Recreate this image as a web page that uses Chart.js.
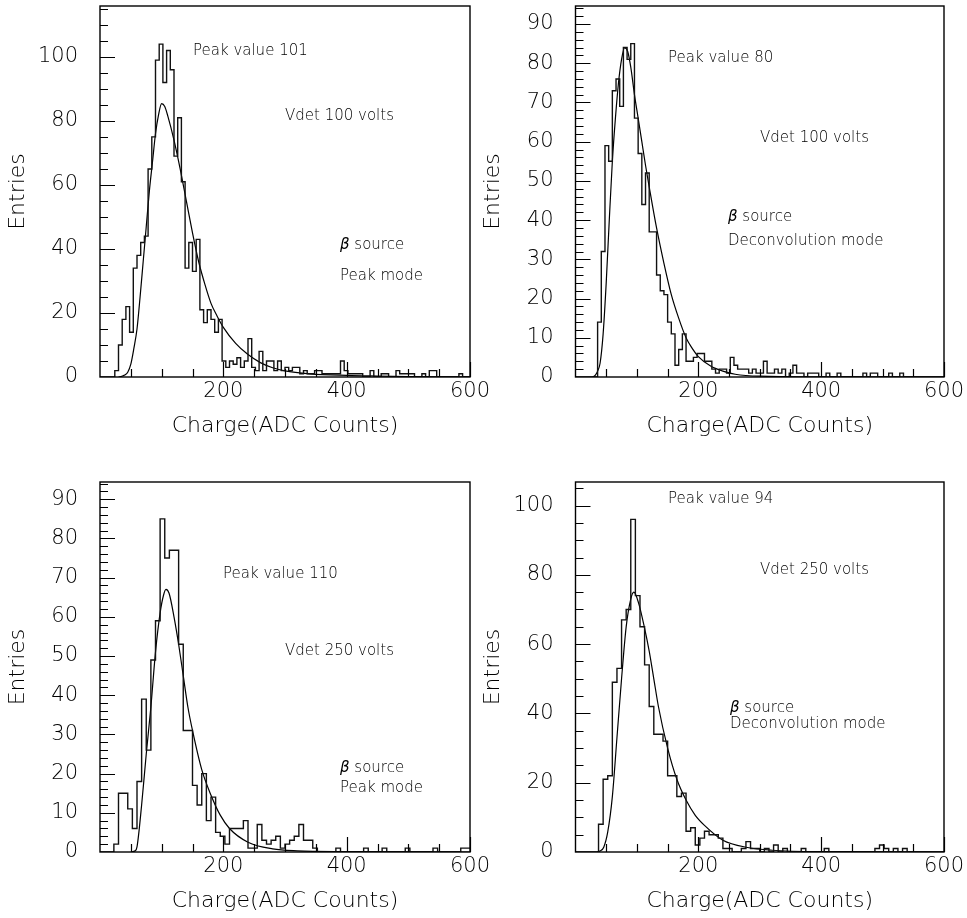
<!DOCTYPE html>
<html><head><meta charset="utf-8">
<script src="https://cdn.jsdelivr.net/npm/chart.js@4.4.1/dist/chart.umd.min.js"></script>
<style>
html,body{margin:0;padding:0;background:#fff;}
#wrap{position:relative;width:967px;height:918px;overflow:hidden;background:#fff;}
#wrap canvas{position:absolute;left:0;top:0;}
</style></head><body><div id="wrap"></div>
<script>
// ---------- data ----------
const xTickValues = [200, 400, 600];
const xTitle = 'Charge(ADC Counts)';
const yTitle = 'Entries';

const p1BinWidth = 6;
const p1Counts = [0,0,0,0,0,2,10,18,22,14,
 34,38,42,44,65,75,99,104,92,102,
 96,69,81,61,34,42,33,43,21,17,
 21,18,14,18,5,3,5,4,6,3,
 5,12,3,2,8,2,5,5,2,5,
 2,3,2,3,3,1,2,1,1,2,
 2,1,1,1,1,1,5,2,1,1,
 1,1,0,0,2,0,0,1,1,0,
 0,2,1,1,1,1,0,0,1,0,
 2,2,0,0,0,0,0,0,1,0];
const p1FitX = [30,35,40,45,50,55,60,65,70,75,80,85,90,95,100,105,110,120,130,140,150,160,170,180,190,200,220,240,260,280,300,340,400,450,500,600];
const p1FitY = [0,0.2,0.6,1.5,4,9,15,25,36,47,58,67,76,82,85.4,84.5,81.5,74,65,55,45,36,29,23,19,15.5,10.5,7,4.5,2.9,1.9,1,0.5,0.3,0.15,0.05];
const p1YMax = 115.9;
const p1Notes = ['Peak value 101', 'Vdet 100 volts', 'β source', 'Peak mode'];

const p2BinWidth = 6;
const p2Counts = [0,0,0,0,0,0,0,14,32,59,
 55,73,76,69,84,81,85,66,57,44,
 52,37,37,26,22,21,14,11,3,7,
 11,4,4,5,6,6,4,4,2,1,
 2,2,1,5,3,2,2,2,1,2,
 1,1,4,1,1,2,1,2,0,1,
 3,1,1,0,1,1,1,0,0,1,
 0,0,1,0,0,0,0,0,0,1,
 0,1,1,0,0,0,1,0,0,1,
 0,0,0,0,0,0,0,0,0,0];
const p2FitX = [28,32,36,40,45,50,55,60,65,70,75,80,85,90,96,102,108,114,120,132,144,156,168,180,190,200,220,240,260,300,400,600];
const p2FitY = [0,0.4,1.5,3.5,11,24,40,55,66,75,81,84,83,79,72,66,60,54,48.5,38,29,21,15,10,7.3,5.2,2.8,1.5,0.7,0.2,0.05,0];
const p2YMax = 94.6;
const p2Notes = ['Peak value 80', 'Vdet 100 volts', 'β source', 'Deconvolution mode'];

const p3BinWidth = 7.5;
const p3Counts = [0,0,0,0,2,15,15,11,6,18,
 39,26,49,59,85,75,77,77,53,31,
 31,17,12,20,8,14,5,4,2,6,
 6,6,8,1,1,7,3,2,3,4,
 1,2,3,4,7,3,3,1,0,0,
 0,0,1,0,0,0,0,0,1,0,
 0,0,1,0,0,0,0,1,0,0,
 0,0,0,1,0,0,0,0,0,1];
const p3FitX = [50,57,60,67.5,75,82.5,90,97.5,103,107,112,120,127.5,135,142.5,150,165,180,195,210,240,280,320,400,600];
const p3FitY = [0,0.3,1.3,12,25,37,51,61,65.5,67,66,60,53,45,37,31,21,14.5,9.4,6,2.5,0.8,0.3,0.1,0];
const p3YMax = 94.4;
const p3Notes = ['Peak value 110', 'Vdet 250 volts', 'β source', 'Peak mode'];

const p4BinWidth = 7.5;
const p4Counts = [0,0,0,0,0,0,8,21,22,49,
 53,67,70,96,74,65,54,42,34,34,
 32,22,22,16,17,6,7,2,4,6,
 5,5,4,1,1,0,0,1,3,1,
 1,0,1,0,2,0,1,0,0,0,
 1,0,0,0,0,1,0,0,0,0,
 0,0,0,0,0,0,1,2,1,0,
 1,0,1,0,0,0,0,0,0,0];
const p4FitX = [35,40,46,52.5,60,67.5,75,82.5,90,95,102.5,112,120,127.5,135,150,165,180,195,210,240,280,320,400,600];
const p4FitY = [0,0.3,1.4,5.8,16,33,50,65,73,75,72,65,58,50,42,30,21,15,10.6,7.7,3.4,1.3,0.5,0.1,0];
const p4YMax = 106.8;
const p4Notes = ['Peak value 94', 'Vdet 250 volts', 'β source', 'Deconvolution mode'];

// ---------- layout / style ----------
const FAMILY = '"DejaVu Sans", "Liberation Sans", sans-serif';
const TICK_FONT = {family: FAMILY, size: 21, weight: 200};
const TITLE_FONT = {family: FAMILY, size: 22, weight: 200};
const NOTE_SIZE = 15;
const W = 967, H = 918;

const panels = [
  {counts: p1Counts, bw: p1BinWidth, fitX: p1FitX, fitY: p1FitY, yMax: p1YMax, yStep: 20, yMinor: 5, notes: p1Notes,
   frame: {l: 100, t: 6, r: 470, b: 377},
   notePos: [[193, 51], [285, 116], [340, 245], [340, 276]]},
  {counts: p2Counts, bw: p2BinWidth, fitX: p2FitX, fitY: p2FitY, yMax: p2YMax, yStep: 10, yMinor: 2, notes: p2Notes,
   frame: {l: 575.5, t: 6, r: 944, b: 377},
   notePos: [[668, 58], [760, 138], [728, 217], [728, 241]]},
  {counts: p3Counts, bw: p3BinWidth, fitX: p3FitX, fitY: p3FitY, yMax: p3YMax, yStep: 10, yMinor: 2, notes: p3Notes,
   frame: {l: 100, t: 482, r: 470, b: 852},
   notePos: [[223, 574], [285, 651], [340, 768], [340, 788]]},
  {counts: p4Counts, bw: p4BinWidth, fitX: p4FitX, fitY: p4FitY, yMax: p4YMax, yStep: 20, yMinor: 5, notes: p4Notes,
   frame: {l: 575.5, t: 482, r: 944, b: 852},
   notePos: [[668, 499], [760, 570], [730, 708], [730, 724]]}
];

const rootDecor = {
  id: 'rootDecor',
  afterDraw(chart, args, opts) {
    const ctx = chart.ctx;
    const {left, right, top, bottom} = chart.chartArea;
    const xs = chart.scales.x, ys = chart.scales.y;
    ctx.save();
    ctx.strokeStyle = '#000';
    ctx.lineWidth = 1.4;
    ctx.strokeRect(left, top, right - left, bottom - top);
    ctx.lineWidth = 1.2;
    ctx.beginPath();
    for (let k = 1; k * opts.xMinor <= xs.max + 1e-9; k++) {
      const v = k * opts.xMinor;
      const px = Math.round(xs.getPixelForValue(v)) + 0.5;
      const len = (Math.abs(v % opts.xMajor) < 1e-6) ? opts.majorLen : opts.minorLen;
      ctx.moveTo(px, bottom); ctx.lineTo(px, bottom - len);
    }
    for (let k = 1; k * opts.yMinor <= ys.max + 1e-9; k++) {
      const v = k * opts.yMinor;
      const py = Math.round(ys.getPixelForValue(v)) + 0.5;
      const len = (Math.abs(v % opts.yMajor) < 1e-6) ? opts.majorLen : opts.minorLen;
      ctx.moveTo(left, py); ctx.lineTo(left + len, py);
    }
    ctx.stroke();
    ctx.fillStyle = '#000';
    ctx.textBaseline = 'middle';
    ctx.textAlign = 'left';
    opts.notes.forEach((txt, i) => {
      let [x, y] = opts.pos[i];
      let rest = txt;
      if (txt.startsWith('β')) {
        ctx.font = 'italic 200 ' + NOTE_SIZE + 'px ' + FAMILY;
        ctx.fillText('β', x, y);
        x += ctx.measureText('β').width;
        rest = txt.slice(1);
      }
      ctx.font = '200 ' + NOTE_SIZE + 'px ' + FAMILY;
      ctx.fillText(rest, x, y);
    });
    ctx.restore();
  }
};

const wrap = document.getElementById('wrap');
panels.forEach((p) => {
  const cv = document.createElement('canvas');
  cv.width = W; cv.height = H;
  cv.style.width = W + 'px'; cv.style.height = H + 'px';
  wrap.appendChild(cv);
  const yW = 100, xH = 62;
  const histPts = p.counts.map((c, i) => ({x: i * p.bw, y: c}));
  histPts.push({x: p.counts.length * p.bw, y: p.counts[p.counts.length - 1]});
  const fitPts = p.fitX.map((x, i) => ({x: x, y: p.fitY[i]}));
  const yTicks = [];
  for (let v = 0; v <= p.yMax + 1e-9; v += p.yStep) yTicks.push(v);
  new Chart(cv, {
    type: 'line',
    data: {datasets: [
      {data: histPts, stepped: 'after', borderColor: '#111', borderWidth: 1.4, pointRadius: 0, fill: false},
      {data: fitPts, borderColor: '#000', borderWidth: 1.2, pointRadius: 0, fill: false, cubicInterpolationMode: 'monotone'}
    ]},
    options: {
      responsive: false, animation: false, devicePixelRatio: 1,
      events: [],
      layout: {padding: {left: p.frame.l - yW, right: W - p.frame.r, top: p.frame.t, bottom: H - p.frame.b - xH}},
      plugins: {legend: {display: false}, tooltip: {enabled: false},
        rootDecor: {notes: p.notes, pos: p.notePos, xMinor: 50, xMajor: 200, yMinor: p.yMinor, yMajor: p.yStep, majorLen: 15, minorLen: 8}},
      scales: {
        x: {type: 'linear', min: 0, max: 600,
          grid: {display: false, drawTicks: false}, border: {display: false},
          afterBuildTicks: s => { s.ticks = xTickValues.map(v => ({value: v})); },
          afterFit: s => { s.height = xH; s.paddingLeft = 0; s.paddingRight = 0; },
          ticks: {font: TICK_FONT, color: '#000', padding: 2, maxRotation: 0, autoSkip: false},
          title: {display: true, text: xTitle, font: TITLE_FONT, color: '#000', padding: {top: 0, bottom: 0}}},
        y: {type: 'linear', min: 0, max: p.yMax,
          grid: {display: false, drawTicks: false}, border: {display: false},
          afterBuildTicks: s => { s.ticks = yTicks.map(v => ({value: v})); },
          afterFit: s => { s.width = yW; s.paddingTop = 0; s.paddingBottom = 0; },
          ticks: {font: TICK_FONT, color: '#000', padding: 22, autoSkip: false},
          title: {display: true, text: yTitle, font: TITLE_FONT, color: '#000', padding: {top: 5, bottom: 0}}}
      }
    },
    plugins: [rootDecor]
  });
});
</script>
</body></html>
